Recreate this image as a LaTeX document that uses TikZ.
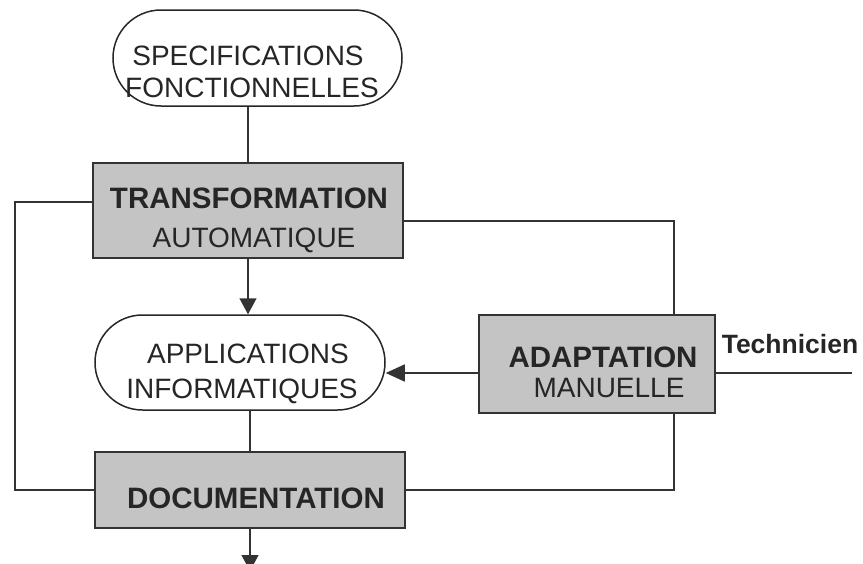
\documentclass[tikz,border=0pt]{standalone}
\usepackage{fontspec}
\setmainfont{Liberation Sans}
\usetikzlibrary{shapes.misc,arrows.meta}
\begin{document}
\begin{tikzpicture}[x=1pt,y=-1pt,
  edge/.style={draw=black!80,line width=1.5pt},
  flow/.style={edge,-{Triangle[length=16pt,width=17pt]}},
  pill/.style={rounded rectangle,draw=black!85,line width=1.5pt,fill=white,inner sep=0pt},
  stepbox/.style={rectangle,draw=black!80,line width=2pt,fill=black!23,inner sep=0pt},
  txt/.style={anchor=base,inner sep=0pt,font=\fontsize{28}{30}\selectfont,text=black!85},
  btxt/.style={txt,font=\fontsize{29.5}{30}\selectfont\bfseries}]
\useasboundingbox (0,0) rectangle (863,563);
\clip (0,0) rectangle (863,563);

% shapes
\node[pill,minimum width=289pt,minimum height=96pt] (spec) at (257.5,58) {};
\node[stepbox,minimum width=310pt,minimum height=95pt] (trans) at (248,210.5) {};
\node[pill,minimum width=290pt,minimum height=95pt] (app) at (240,362.5) {};
\node[stepbox,minimum width=236pt,minimum height=98pt] (adapt) at (597,364) {};
\node[stepbox,minimum width=310pt,minimum height=76pt] (doc) at (250,490) {};

% texts
\node[txt] (specA) at (248,65) {SPECIFICATIONS};
\node[txt] (specB) at (252,97) {FONCTIONNELLES};
\node[btxt] (transA) at (249,208) {TRANSFORMATION};
\node[txt] (transB) at (254,247) {AUTOMATIQUE};
\node[txt] (appA) at (248,363) {APPLICATIONS};
\node[txt] (appB) at (242,398) {INFORMATIQUES};
\node[btxt] (adaptA) at (603,367) {ADAPTATION};
\node[txt] (adaptB) at (609,397) {MANUELLE};
\node[btxt] (docA) at (256,508) {DOCUMENTATION};
\node[btxt,font=\fontsize{26.5}{28}\selectfont\bfseries] (tech) at (790,353) {Technicien};

% free ends and corners
\coordinate (lt) at (15,202);
\coordinate (lb) at (15,490);
\coordinate (rt) at (674,221);
\coordinate (rb) at (674,490);
\coordinate (techEnd) at (852,373);
\coordinate (outEnd) at (250,571);

% connectors
\draw[edge] (spec.south -| trans.north) -- (trans.north);
\draw[flow] (trans.south) -- (trans.south |- app.north);
\draw[edge] (app.south -| doc.north) -- (doc.north);
\draw[flow] (doc.south) -- (outEnd);
\draw[edge] (trans.west |- lt) -- (lt) -- (lb) -- (doc.west);
\draw[edge] (trans.east |- rt) -- (rt) -- (adapt.north -| rt);
\draw[edge] (adapt.south -| rb) -- (rb) -- (doc.east);
\draw[edge] (adapt.east |- techEnd) -- (techEnd);
\draw[flow,-{Triangle[length=19pt,width=17pt]}] (adapt.west |- techEnd) -- (app.east |- techEnd);
\end{tikzpicture}
\end{document}
